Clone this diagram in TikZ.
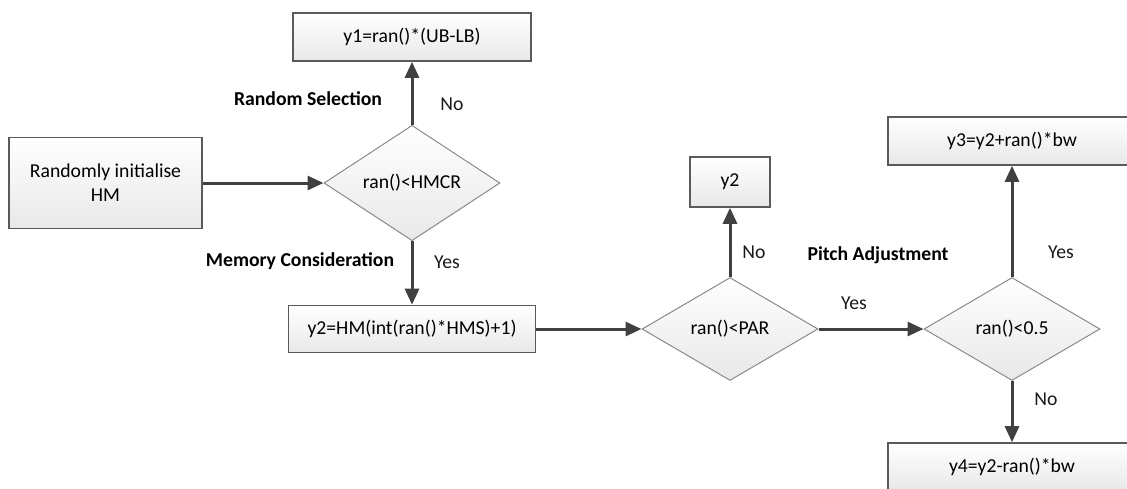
\documentclass[tikz,border=0pt]{standalone}
\usepackage{fontspec}
\setmainfont{Carlito}
\usetikzlibrary{shapes.geometric,arrows.meta}
\definecolor{edgegray}{HTML}{5A5A5A}
\definecolor{arrowgray}{HTML}{404040}
\definecolor{diagray}{HTML}{8A8A8A}
\begin{document}
\begin{tikzpicture}[x=0.5pt,y=-0.5pt,
  font=\fontsize{9.85}{12}\selectfont,
  procbox/.style={rectangle, draw=edgegray, line width=0.8pt,
    top color=white, bottom color=black!9, inner sep=0pt, text=black},
  decision/.style={diamond, draw=diagray, line width=0.5pt,
    top color=white, bottom color=black!9, inner sep=0pt,
    minimum width=88pt, minimum height=51.5pt},
  flow/.style={draw=arrowgray, line width=1.5pt,
    -{Triangle[length=8pt,width=7pt]}},
  steplabel/.style={font=\fontsize{9.85}{12}\selectfont\bfseries},
  answer/.style={text=black!90}]

  \useasboundingbox (0,0) rectangle (1127,488);
  \clip (0,0) rectangle (1127,488);

  % process boxes
  \node[procbox, minimum width=96.5pt, minimum height=45.5pt, align=center]
    (init) at (105.5,183) {Randomly initialise\\HM};
  \node[procbox, minimum width=119pt, minimum height=24pt]
    (yone) at (412,37) {y1=ran()*(UB-LB)};
  \node[procbox, minimum width=123.5pt, minimum height=23.5pt]
    (ytwo) at (412,329) {y2=HM(int(ran()*HMS)+1)};
  \node[procbox, minimum width=40pt, minimum height=25pt]
    (keep) at (730,182) {y2};
  \node[procbox, minimum width=124pt, minimum height=24pt]
    (ythree) at (1012,141) {y3=y2+ran()*bw};
  \node[procbox, minimum width=124pt, minimum height=24pt]
    (yfour) at (1012,467) {y4=y2-ran()*bw};

  % decisions
  \node[decision] (hmcr) at (412,183) {ran()<HMCR};
  \node[decision] (par) at (730,329) {ran()<PAR};
  \node[decision] (half) at (1012,329) {ran()<0.5};

  % connectors
  \draw[flow] (init.east) -- (hmcr.west);
  \draw[flow] (hmcr.north) -- (yone.south);
  \draw[flow] (hmcr.south) -- (ytwo.north);
  \draw[flow] (ytwo.east) -- (par.west);
  \draw[flow] (par.north) -- (keep.south);
  \draw[flow] (par.east) -- (half.west);
  \draw[flow] (half.north) -- (ythree.south);
  \draw[flow] (half.south) -- (yfour.north);

  % step names
  \node[steplabel] (lrand) at (308,99) {Random Selection};
  \node[steplabel] (lmem) at (300,261) {Memory Consideration};
  \node[steplabel] (lpitch) at (878,255) {Pitch Adjustment};

  % branch answers
  \node[answer] (a1) at (452,104) {No};
  \node[answer] (a2) at (447,262) {Yes};
  \node[answer] (a3) at (754,252) {No};
  \node[answer] (a4) at (854,303) {Yes};
  \node[answer] (a5) at (1061,252) {Yes};
  \node[answer] (a6) at (1046,399) {No};
\end{tikzpicture}
\end{document}
